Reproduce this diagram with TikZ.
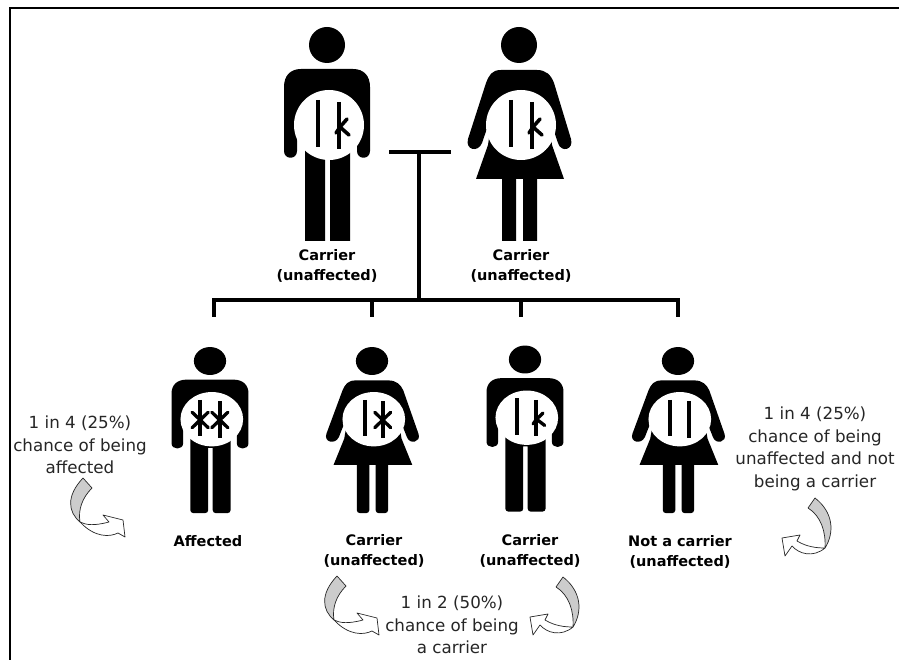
\documentclass[tikz,border=0pt]{standalone}
\usepackage{fontspec}
\setmainfont{DejaVu Sans}
\newcommand{\manfig}{%
  \fill (0,0) circle[x radius=18,y radius=18];
  \fill (-26,24) -- (26,24) .. controls (37,24) and (43,31) .. (43,42) -- (43,106)
     .. controls (43,115) and (30,115) .. (30,106) -- (30,85) -- (23,100)
     [rounded corners=\legr] -- (23,196) -- (3,196) [sharp corners] -- (3,112) -- (-2,112)
     [rounded corners=\legr] -- (-2,196) -- (-22,196) [sharp corners] -- (-22,100) -- (-30,85) -- (-30,106)
     .. controls (-30,115) and (-43,115) .. (-43,106) -- (-43,42)
     .. controls (-43,31) and (-37,24) .. (-26,24) -- cycle;
}
\newcommand{\womanfig}{%
  \fill (0,0) circle[x radius=18,y radius=18];
  \fill (-18,25) -- (18,25) .. controls (27,25) and (32,30) .. (35,38) -- (52,94)
     .. controls (55,105) and (42,108) .. (39,98) -- (28,66) -- (33,100) -- (45,134)
     -- (18,134) [rounded corners=\legr] -- (18,196) -- (4,196) [sharp corners] -- (4,134) -- (-3,134)
     [rounded corners=\legr] -- (-3,196) -- (-17,196) [sharp corners] -- (-17,134) -- (-43,134)
     -- (-31,100) -- (-26,66) -- (-37,98) .. controls (-41,108) and (-54,105) .. (-51,94)
     -- (-33,38) .. controls (-30,30) and (-27,25) .. (-18,25) -- cycle;
}
\newcommand{\cellback}{\fill[white] (2,80) circle[x radius=35,y radius=35];}
\newcommand{\barleft}[1]{\draw[chrombar] (#1,55) -- (#1,102);}
\newcommand{\barright}[1]{\draw[chrombar] (#1,57) -- (#1,104);}
\newcommand{\kmark}[1]{\draw[chrommark] (#1+8,74) -- (#1+1,82) -- (#1+10,90)
   (#1+1,82) -- (#1-3,88);}
\newcommand{\xmark}[1]{\draw[chrommark] (#1-9,71) -- (#1+9,91) (#1+9,71) -- (#1-9,91);}
\tikzset{
  chrombar/.style={line width=\chromw,line cap=butt},
  chrommark/.style={line width=\chromm,line cap=round},
  link/.style={line width=3.6pt,line cap=butt},
  plain/.style={font=\fontsize{14.5}{19.5}\selectfont\bfseries,align=center,inner sep=0pt},
  note/.style={font=\fontsize{16.7}{22.6}\selectfont,align=center,inner sep=0pt,text=black!85},
  tail/.style={draw=black!85,line width=.7pt,fill=black!20,line join=round},
  head/.style={draw=black!85,line width=.7pt,fill=white,line join=round},
  lowfig/.style={xscale=.895,yscale=.776},
}
\begin{document}
\begin{tikzpicture}[x=1pt,y=-1pt]
\useasboundingbox (0,0) rectangle (899,660);
\fill[white] (0,0) rectangle (899,660);
\coordinate (frameA) at (10,660);
\coordinate (frameB) at (10,8);
\coordinate (frameC) at (899,8);
\draw[line width=2.4pt,line join=miter] (frameA) -- (frameB) -- (frameC);

% parents
\def\legr{0pt}\def\chromw{4.6pt}\def\chromm{3.6pt}
\begin{scope}[shift={(327,45)}]
  \manfig \cellback \barleft{-9} \barright{12} \kmark{12}
\end{scope}
\begin{scope}[shift={(519,45)}]
  \womanfig \cellback \barleft{-8} \barright{13} \kmark{13}
\end{scope}

% children
\def\legr{3pt}\def\chromw{4.2pt}\def\chromm{3.3pt}
\begin{scope}[shift={(210,361)},lowfig]
  \manfig \begin{scope}[yshift=5pt]\cellback \barleft{-11} \barright{11} \xmark{-11} \xmark{11}\end{scope}
\end{scope}
\begin{scope}[shift={(372,361)},lowfig]
  \womanfig \begin{scope}[yshift=5pt]\cellback \barleft{-8} \barright{12} \xmark{12}\end{scope}
\end{scope}
\begin{scope}[shift={(525,359.5)},lowfig]
  \manfig \begin{scope}[yshift=5pt]\cellback \barleft{-9} \barright{12} \kmark{12}\end{scope}
\end{scope}
\begin{scope}[shift={(678,361)},lowfig]
  \womanfig \begin{scope}[yshift=5pt]\cellback \barleft{-9} \barright{12}\end{scope}
\end{scope}

% pedigree lines
\coordinate (coupleL) at (389,152);
\coordinate (coupleR) at (451,152);
\coordinate (coupleM) at (419,152);
\coordinate (busM) at (419,300);
\coordinate (busL) at (212,300);
\coordinate (busR) at (680,300);
\coordinate (dropA) at (214,300);
\coordinate (dropB) at (372,300);
\coordinate (dropC) at (521,300);
\coordinate (dropD) at (678,300);
\coordinate (kidA) at (214,317);
\coordinate (kidB) at (372,317);
\coordinate (kidC) at (521,317);
\coordinate (kidD) at (678,317);
\draw[link] (coupleL) -- (coupleR);
\draw[link] (coupleM) -- (busM);
\draw[link] (busL) -- (busR);
\draw[link] (dropA) -- (kidA);
\draw[link] (dropB) -- (kidB);
\draw[link] (dropC) -- (kidC);
\draw[link] (dropD) -- (kidD);

% labels
\node[plain] (labA) at (327,266) {Carrier\\(unaffected)};
\node[plain] (labB) at (521,266) {Carrier\\(unaffected)};
\node[plain] (labC) at (208,541) {Affected};
\node[plain] (labD) at (374,551) {Carrier\\(unaffected)};
\node[plain] (labE) at (530,551) {Carrier\\(unaffected)};
\node[plain] (labF) at (680,552) {Not a carrier\\(unaffected)};
\node[note] (noteA) at (80,445) {1 in 4 (25\%)\\chance of being\\affected};
\node[note] (noteB) at (452,625) {1 in 2 (50\%)\\chance of being\\a carrier};
\node[note] (noteC) at (815,449) {1 in 4 (25\%)\\chance of being\\unaffected and not\\being a carrier};

% curved arrows, mirrored forms
\newcommand{\arrowright}{%
  \draw[head] (0,0) .. controls (6,3) and (14,4) .. (29,0) -- (23,-7) -- (43,-2) -- (45,15) -- (38,11)
     .. controls (30,15) and (15,16) .. (0,0) -- cycle;
  \draw[tail] (3,-44) -- (12,-34) .. controls (2,-24) and (-2,-12) .. (0,0)
     .. controls (-12,-10) and (-14,-26) .. (3,-44) -- cycle;
}
\newcommand{\arrowleft}{%
  \draw[head] (0,0) .. controls (-8,0) and (-18,-1) .. (-28,-7) -- (-25,-13) -- (-43,-10) -- (-40,8) -- (-33,-2)
     .. controls (-26,6) and (-12,10) .. (0,0) -- cycle;
  \draw[tail] (-10,-50) -- (-17,-40) .. controls (-4,-32) and (1,-16) .. (0,0)
     .. controls (10,-16) and (8,-36) .. (-10,-50) -- cycle;
}
\begin{scope}[shift={(80,522)}]\arrowright\end{scope}
\begin{scope}[shift={(334,620)}]\arrowright\end{scope}
\begin{scope}[shift={(573,627)}]\arrowleft\end{scope}
\begin{scope}[shift={(825,548)}]\arrowleft\end{scope}
\end{tikzpicture}
\end{document}
